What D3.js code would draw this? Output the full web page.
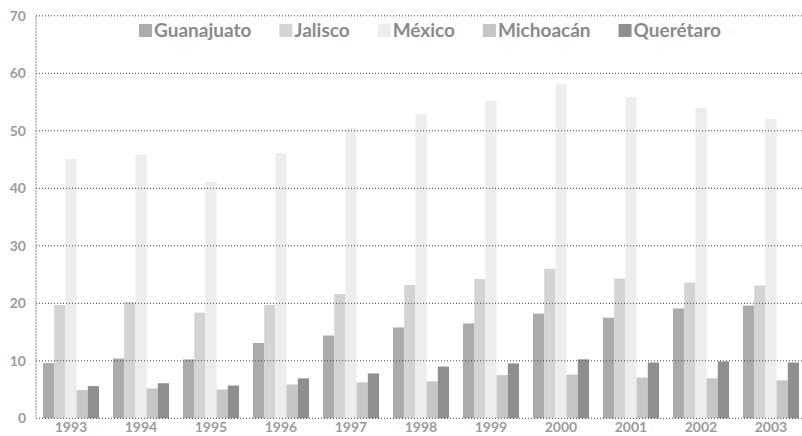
<!DOCTYPE html>
<html>
<head>
<meta charset="utf-8">
<title>Estados</title>
<script src="https://d3js.org/d3.v7.min.js"></script>
<style>
  body { margin: 0; background: #fff; font-family: Lato, "Open Sans", sans-serif; }
  .tick-label { font-size: 14px; font-weight: 700; fill: #9b9b9b; }
  .legend text { font-size: 19px; font-weight: 700; fill: #8a8a8a; }
</style>
</head>
<body>
<div id="chart"></div>
<script>
// data
const years = ["1993","1994","1995","1996","1997","1998","1999","2000","2001","2002","2003"];
const states = ["Guanajuato","Jalisco","México","Michoacán","Querétaro"];
const guanajuato = [9.6,10.4,10.25,13.1,14.4,15.8,16.5,18.2,17.5,19.1,19.6];
const jalisco    = [19.7,20.2,18.4,19.7,21.6,23.2,24.2,26.0,24.3,23.6,23.1];
const mexico     = [45.1,45.8,41.1,46.1,50.5,52.9,55.2,58.1,55.9,54.0,52.1];
const michoacan  = [4.9,5.2,5.0,5.9,6.25,6.4,7.5,7.6,7.1,6.95,6.6];
const queretaro  = [5.6,6.1,5.7,6.95,7.8,9.0,9.55,10.25,9.7,9.9,9.7];
const yTicks = [0,10,20,30,40,50,60,70];

const colors = ["#ababab","#d3d4d6","#ecedef","#c5c6c8","#8f8f8f"];
const series = [guanajuato, jalisco, mexico, michoacan, queretaro];

const W = 802, H = 436;
const mLeft = 36, mRight = 806, mTop = 15.8, mBottom = 418.3;

const svg = d3.select("#chart").append("svg")
  .attr("width", W).attr("height", H);

const x = d3.scaleBand().domain(years).range([mLeft, mRight])
  .paddingInner(0.2).paddingOuter(0.1);
const x1 = d3.scaleBand().domain(states).range([0, x.bandwidth()]);
const y = d3.scaleLinear().domain([0, 70]).range([mBottom, mTop]);
const color = d3.scaleOrdinal().domain(states).range(colors);

// bars
const groups = svg.append("g").selectAll("g")
  .data(years).join("g")
  .attr("transform", d => `translate(${x(d)},0)`);

groups.selectAll("rect")
  .data((yr, i) => states.map((s, j) => ({state: s, value: series[j][i]})))
  .join("rect")
  .attr("x", d => x1(d.state))
  .attr("y", d => y(d.value))
  .attr("width", x1.bandwidth())
  .attr("height", d => y(0) - y(d.value))
  .attr("fill", d => color(d.state));

// grid lines on top
svg.append("g").selectAll("line")
  .data(yTicks).join("line")
  .attr("x1", mLeft).attr("x2", W)
  .attr("y1", d => y(d)).attr("y2", d => y(d))
  .attr("stroke", "#444").attr("stroke-width", 1)
  .attr("stroke-dasharray", "1,2");

svg.append("line")
  .attr("x1", mLeft).attr("x2", mLeft)
  .attr("y1", y(70)).attr("y2", y(0))
  .attr("stroke", "#888").attr("stroke-dasharray", "2,1");

// y labels
svg.append("g").selectAll("text")
  .data(yTicks).join("text")
  .attr("class", "tick-label")
  .attr("x", 26).attr("y", d => y(d) + 5)
  .attr("text-anchor", "end")
  .text(d => d);

// x labels
svg.append("g").selectAll("text")
  .data(years).join("text")
  .attr("class", "tick-label")
  .attr("x", d => x(d) + x.bandwidth() / 2)
  .attr("y", 432)
  .attr("text-anchor", "middle")
  .text(d => d);

// legend
const legend = svg.append("g").attr("class", "legend");
const gap = 28;
let cx = 0;
states.forEach((s, i) => {
  const g = legend.append("g").attr("transform", `translate(${cx},0)`);
  g.append("rect").attr("x", 0).attr("y", 24).attr("width", 13).attr("height", 13)
    .attr("fill", colors[i]);
  const t = g.append("text").attr("x", 15).attr("y", 37).text(s);
  cx += 15 + t.node().getComputedTextLength() + gap;
});
const lw = cx - gap;
legend.attr("transform", `translate(${430 - lw / 2},0)`);
</script>
</body>
</html>
